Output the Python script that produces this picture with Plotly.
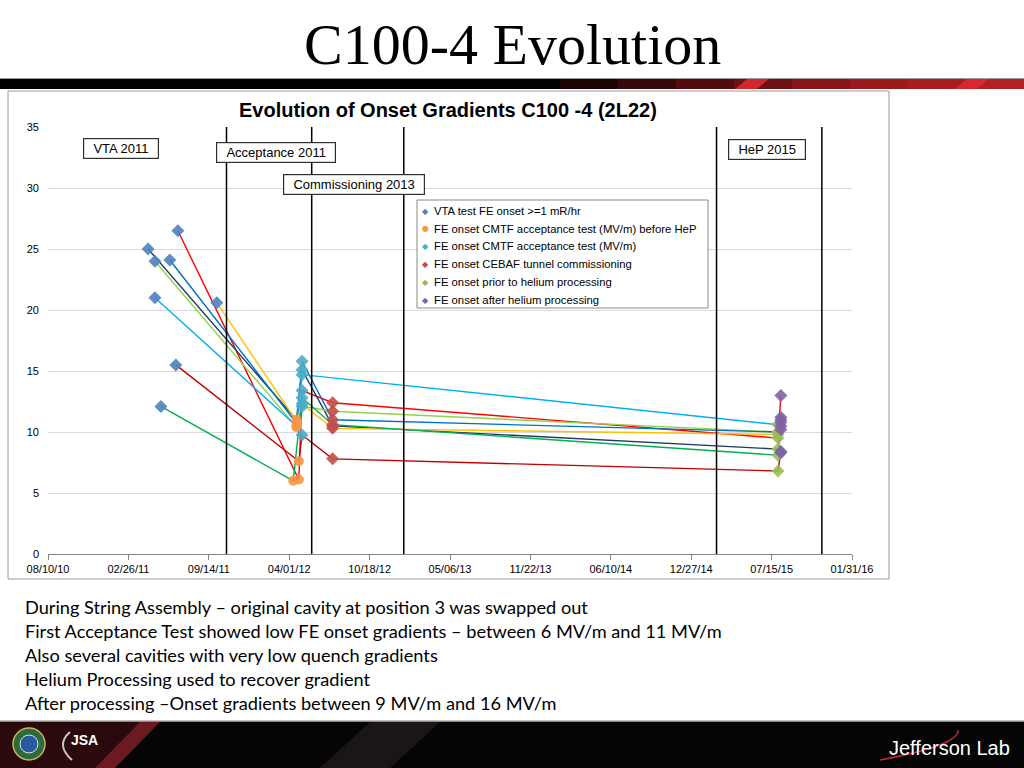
import plotly.graph_objects as go

# ---------------- data ----------------
stage_names = [
    "VTA test FE onset >=1 mR/hr",
    "FE onset CMTF acceptance test (MV/m) before HeP",
    "FE onset CMTF acceptance test (MV/m)",
    "FE onset CEBAF tunnel commissioning",
    "FE onset prior to helium processing",
    "FE onset after helium processing",
]
stage_colors = ["#4F81BD", "#F79646", "#4BACC6", "#C0504D", "#9BBB59", "#8064A2"]
stage_symbols = ["diamond", "circle", "diamond", "diamond", "diamond", "diamond"]
stage_glyphs = ["\u25C6", "\u25CF", "\u25C6", "\u25C6", "\u25C6", "\u25C6"]

cavity_colors = ["#FF0000", "#C00000", "#1F3864", "#92D050", "#0070C0", "#00B0F0", "#FFC000", "#00B050"]

vta_dates = ["2011-06-29", "2011-06-24", "2011-04-16", "2011-05-03", "2011-06-09", "2011-05-03", "2011-10-04", "2011-05-18"]
vta_vals = [26.5, 15.5, 25.0, 24.0, 24.1, 21.0, 20.6, 12.1]

cmtf_pre_dates = ["2012-04-25", "2012-04-25", "2012-04-19", "2012-04-19", "2012-04-20", "2012-04-19", "2012-04-21", "2012-04-11"]
cmtf_pre_vals = [6.1, 7.6, 11.0, 10.4, 10.7, 10.5, 10.8, 6.0]

cmtf_dates = ["2012-05-03"] * 8
cmtf_vals = [13.4, 9.75, 15.1, 12.1, 15.8, 14.7, 12.3, 12.8]

cebaf_dates = ["2012-07-18"] * 8
cebaf_vals = [12.4, 7.8, 10.5, 11.7, 11.0, None, 10.3, 10.6]

prior_dates = ["2015-07-31"] * 8
prior_vals = [9.5, 6.8, 8.6, 10.0, 10.0, 10.6, 9.8, 8.1]

after_dates = ["2015-08-07"] * 8
after_vals = [13.0, 8.4, 10.2, 11.0, 10.8, 11.2, 10.5, 8.3]

event_dates = ["2011-10-28", "2012-05-27", "2013-01-11", "2015-02-28", "2015-11-17"]
event_labels = ["VTA 2011", "Acceptance 2011", "Commissioning 2013", "HeP 2015"]

y_ticks = [0, 5, 10, 15, 20, 25, 30, 35]

bullets = [
    "During String Assembly \u2013 original cavity at position 3 was swapped out",
    "First Acceptance Test showed low FE onset gradients \u2013 between 6 MV/m and 11 MV/m",
    "Also several cavities with very low quench gradients",
    "Helium Processing used to recover gradient",
    "After processing \u2013Onset gradients between 9 MV/m and 16 MV/m",
]

# ---------------- layout helpers ----------------
W, H = 1024, 768
PL, PR, PT, PB = 48, 852, 127, 554


def px(x):
    return (x - PL) / (PR - PL)


def py(y):
    return (PB - y) / (PB - PT)


stage_dates = [vta_dates, cmtf_pre_dates, cmtf_dates, cebaf_dates, prior_dates, after_dates]
stage_vals = [vta_vals, cmtf_pre_vals, cmtf_vals, cebaf_vals, prior_vals, after_vals]

fig = go.Figure()

# cavity lines
for i, col in enumerate(cavity_colors):
    xs, ys = [], []
    for d, v in zip(stage_dates, stage_vals):
        if v[i] is not None:
            xs.append(d[i])
            ys.append(v[i])
    fig.add_trace(go.Scatter(x=xs, y=ys, mode="lines", line=dict(color=col, width=1.4),
                             showlegend=False, hoverinfo="skip"))

# stage markers
for s in range(6):
    xs, ys = [], []
    for i in range(8):
        if stage_vals[s][i] is not None:
            xs.append(stage_dates[s][i])
            ys.append(stage_vals[s][i])
    fig.add_trace(go.Scatter(x=xs, y=ys, mode="markers", name=stage_names[s], showlegend=False,
                             marker=dict(color=stage_colors[s], symbol=stage_symbols[s], size=10,
                                         opacity=0.9, line=dict(width=0))))

shapes = []
# chart frame
shapes.append(dict(type="rect", xref="paper", yref="paper", x0=px(8), x1=px(889), y0=py(579), y1=py(91),
                   line=dict(color="#9A9A9A", width=1), fillcolor="rgba(0,0,0,0)", layer="below"))
# event lines
for d in event_dates:
    shapes.append(dict(type="line", xref="x", yref="paper", x0=d, x1=d, y0=0, y1=1,
                       line=dict(color="#000000", width=1.5)))
# legend box
shapes.append(dict(type="rect", xref="paper", yref="paper", x0=px(417), x1=px(708), y0=py(308), y1=py(200),
                   line=dict(color="#8A8A8A", width=1), fillcolor="#FFFFFF"))

# header bar
shapes.append(dict(type="rect", xref="paper", yref="paper", x0=px(0), x1=px(1024), y0=py(78), y1=py(79.5),
                   line=dict(width=0), fillcolor="#9A9A9A"))
shapes.append(dict(type="rect", xref="paper", yref="paper", x0=px(0), x1=px(1024), y0=py(89), y1=py(79),
                   line=dict(width=0), fillcolor="#000000"))
grad = ["#1a0405", "#35080a", "#520c0f", "#6e1114", "#861619", "#9a1a1e", "#a91d22", "#b21f24"]
n = len(grad)
for k, c in enumerate(grad):
    x0 = 560 + k * (464 / n)
    shapes.append(dict(type="rect", xref="paper", yref="paper", x0=px(x0), x1=px(x0 + 464 / n + 1),
                       y0=py(89), y1=py(79), line=dict(width=0), fillcolor=c))
for xa, c in [(735, "#d0262c"), (955, "#d8282e")]:
    shapes.append(dict(type="path", xref="paper", yref="paper",
                       path=f"M {px(xa)} {py(89)} L {px(xa+12)} {py(79)} L {px(xa+34)} {py(79)} L {px(xa+22)} {py(89)} Z",
                       line=dict(width=0), fillcolor=c))

# footer
shapes.append(dict(type="rect", xref="paper", yref="paper", x0=px(0), x1=px(1024), y0=py(768), y1=py(721),
                   line=dict(width=0), fillcolor="#050505"))
shapes.append(dict(type="rect", xref="paper", yref="paper", x0=px(0), x1=px(1024), y0=py(722), y1=py(720.5),
                   line=dict(width=0), fillcolor="#8a8a8a"))
shapes.append(dict(type="path", xref="paper", yref="paper",
                   path=f"M {px(0)} {py(768)} L {px(0)} {py(722)} L {px(150)} {py(722)} L {px(105)} {py(768)} Z",
                   line=dict(width=0), fillcolor="#2a0a0c"))
shapes.append(dict(type="path", xref="paper", yref="paper",
                   path=f"M {px(95)} {py(768)} L {px(140)} {py(722)} L {px(160)} {py(722)} L {px(115)} {py(768)} Z",
                   line=dict(width=0), fillcolor="#6b1a20"))
shapes.append(dict(type="path", xref="paper", yref="paper",
                   path=f"M {px(320)} {py(768)} L {px(370)} {py(722)} L {px(440)} {py(722)} L {px(390)} {py(768)} Z",
                   line=dict(width=0), fillcolor="#1c1516"))
# DOE seal
shapes.append(dict(type="circle", xref="paper", yref="paper", x0=px(13), x1=px(45), y0=py(760), y1=py(728),
                   line=dict(color="#c9b45a", width=1.5), fillcolor="#2d6a3c"))
shapes.append(dict(type="circle", xref="paper", yref="paper", x0=px(20), x1=px(38), y0=py(753), y1=py(735),
                   line=dict(color="#e0e0e0", width=1), fillcolor="#2a5aa0"))
# JSA swoosh
shapes.append(dict(type="path", xref="paper", yref="paper",
                   path=f"M {px(70)} {py(732)} Q {px(55)} {py(745)} {px(72)} {py(760)}",
                   line=dict(color="#c8c8c8", width=2)))
# Jefferson Lab swoosh
shapes.append(dict(type="path", xref="paper", yref="paper",
                   path=f"M {px(880)} {py(760)} Q {px(960)} {py(745)} {px(958)} {py(730)}",
                   line=dict(color="#c0283a", width=1.5)))

annotations = []
# slide title
annotations.append(dict(x=px(512), y=py(44), xref="paper", yref="paper", text="C100-4 Evolution",
                        showarrow=False, font=dict(family="Liberation Serif", size=58, color="#000000"),
                        xanchor="center", yanchor="middle"))
# chart title
annotations.append(dict(x=px(448), y=py(110), xref="paper", yref="paper",
                        text="<b>Evolution of Onset Gradients C100 -4 (2L22)</b>",
                        showarrow=False, font=dict(family="Liberation Sans", size=20, color="#000000"),
                        xanchor="center", yanchor="middle"))
# event boxes
box_pos = [(120.5, 149), (275.5, 153), (354, 184), (767, 149.5)]
for lab, (bx, by) in zip(event_labels, box_pos):
    annotations.append(dict(x=px(bx), y=py(by), xref="paper", yref="paper",
                            text="\u00a0\u00a0" + lab + "\u00a0\u00a0", showarrow=False,
                            font=dict(family="Liberation Sans", size=13, color="#000000"),
                            bgcolor="#FFFFFF", bordercolor="#303030", borderwidth=1.2, borderpad=2,
                            xanchor="center", yanchor="middle"))
# custom legend
legend_rows = [211, 228.5, 246, 264, 282, 300]
for s in range(6):
    annotations.append(dict(x=px(425), y=py(legend_rows[s]), xref="paper", yref="paper",
                            text=stage_glyphs[s], showarrow=False,
                            font=dict(family="DejaVu Sans", size=8, color=stage_colors[s]),
                            xanchor="center", yanchor="middle"))
    annotations.append(dict(x=px(432), y=py(legend_rows[s]), xref="paper", yref="paper",
                            text=stage_names[s], showarrow=False,
                            font=dict(family="Liberation Sans", size=11.3, color="#000000"),
                            xanchor="left", yanchor="middle"))
# bullets
for k, t in enumerate(bullets):
    annotations.append(dict(x=px(23), y=py(607 + 24 * k), xref="paper", yref="paper", text=t,
                            showarrow=False, font=dict(family="Lato", size=18.2, color="#000000"),
                            xanchor="left", yanchor="middle"))
# footer texts
annotations.append(dict(x=px(84), y=py(740), xref="paper", yref="paper", text="<b>JSA</b>", showarrow=False,
                        font=dict(family="Liberation Sans", size=14, color="#FFFFFF"),
                        xanchor="center", yanchor="middle"))
annotations.append(dict(x=px(1012), y=py(748), xref="paper", yref="paper", text="Jefferson Lab",
                        showarrow=False, font=dict(family="Liberation Sans", size=20, color="#FFFFFF"),
                        xanchor="right", yanchor="middle"))

fig.update_layout(
    width=W, height=H, autosize=False,
    margin=dict(l=PL, r=W - PR, t=PT, b=H - PB),
    paper_bgcolor="#FFFFFF", plot_bgcolor="#FFFFFF",
    font=dict(family="Liberation Sans", size=11, color="#000000"),
    shapes=shapes, annotations=annotations,
    showlegend=False,
    xaxis=dict(type="date", range=["2010-08-10", "2016-01-31"], tick0="2010-08-10",
               dtick=200 * 86400000, tickformat="%m/%d/%y", showgrid=False,
               showline=True, linecolor="#868686", linewidth=1, ticks="outside",
               tickcolor="#868686", ticklen=5, tickfont=dict(size=11), zeroline=False),
    yaxis=dict(range=[0, 35], tickvals=y_ticks, showgrid=True, gridcolor="#D9D9D9", gridwidth=1.2,
               zeroline=False, showline=False, ticks="", tickfont=dict(size=11), ticklabelstandoff=8),
)

fig.write_html("out.html", config={"displayModeBar": False},
               post_script="document.body.style.margin='0px';")
